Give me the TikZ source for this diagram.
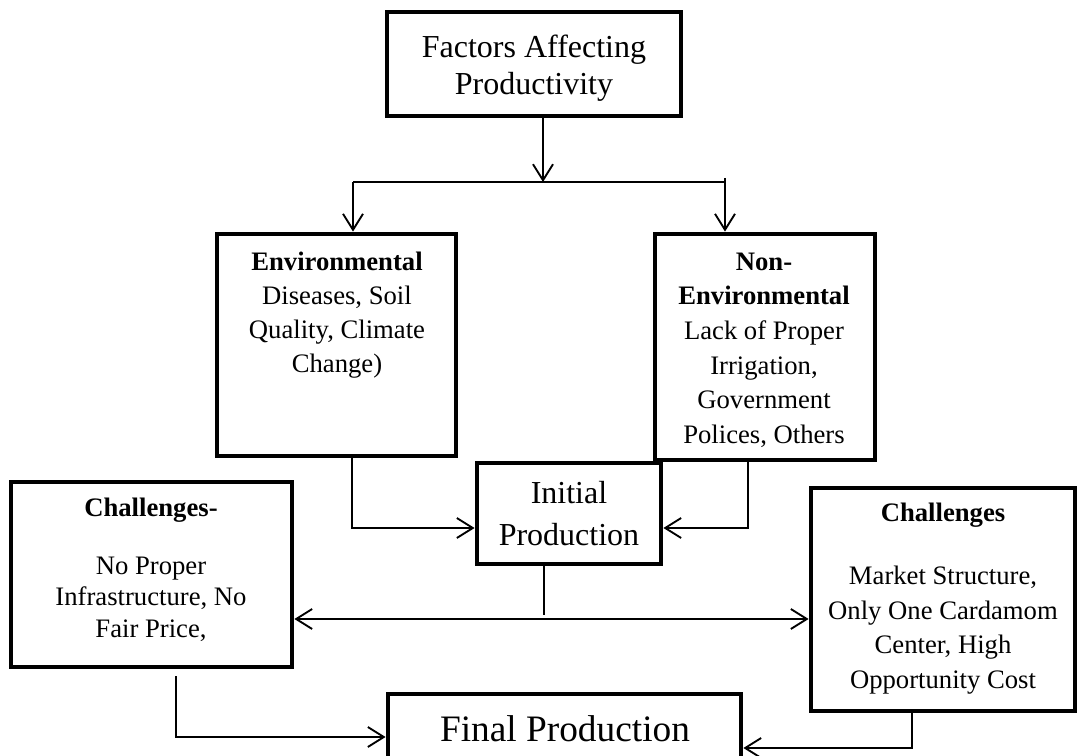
\documentclass[tikz,border=0pt]{standalone}
\usepackage{fontspec}
\setmainfont{Liberation Serif}
\usetikzlibrary{arrows.meta,fit}
\begin{document}
\begin{tikzpicture}[x=0.75pt,y=-0.75pt,
  box/.style={draw=black,line width=3.6pt,inner sep=0pt,rectangle},
  conn/.style={line width=1.4pt,draw=black},
  arr/.style={conn,-{Straight Barb[length=12pt,width=15pt]}},
  arrtwo/.style={conn,{Straight Barb[length=12pt,width=15pt]}-{Straight Barb[length=12pt,width=15pt]}},
  big/.style={font=\fontsize{24}{28}\selectfont,align=center,inner sep=0pt},
  body/.style={font=\fontsize{20}{25.5}\selectfont,align=center,inner sep=0pt},
  head/.style={font=\fontsize{20}{25.5}\selectfont\bfseries,align=center,inner sep=0pt}]
\useasboundingbox (0,0) rectangle (1081,756);
\clip (0,0) rectangle (1081,756);
% boxes
\node[box,fit={(387,12) (681,116)}] (top) {};
\node[box,fit={(217,234) (456,456)}] (env) {};
\node[box,fit={(655,234) (875,460)}] (nonenv) {};
\node[box,fit={(477,463) (661,564)}] (initial) {};
\node[box,fit={(11,482) (292,667)}] (left) {};
\node[box,fit={(811,488) (1075,711)}] (right) {};
\node[box,fit={(388,694) (741,790)}] (final) {};
% texts
\node[big] (ttop) at (534,68) {Factors Affecting\\Productivity};
\node[body] (tenv) at (337,315) {\textbf{Environmental}\\Diseases, Soil\\Quality, Climate\\Change)};
\node[body,font=\fontsize{20}{26}\selectfont] (tnonenv) at (764,350) {\textbf{Non-}\\\textbf{Environmental}\\Lack of Proper\\Irrigation,\\Government\\Polices, Others};
\node[big,font=\fontsize{24}{31.5}\selectfont] (tinit) at (569,514) {Initial\\Production};
\node[head] (hleft) at (151,510) {Challenges-};
\node[body,font=\fontsize{20}{23.5}\selectfont] (tleft) at (151,599) {No Proper\\Infrastructure, No\\Fair Price,};
\node[head] (hright) at (943,515) {Challenges};
\node[body,font=\fontsize{20}{26}\selectfont] (tright) at (943,630) {Market Structure,\\Only One Cardamom\\Center, High\\Opportunity Cost};
\node[inner sep=0pt,font=\fontsize{28}{32}\selectfont] (tfinal) at (565,729) {Final Production};
% coordinates
\coordinate (j) at (543,182);
\coordinate (jl) at (353,182);
\coordinate (jr) at (725,182);
\coordinate (jrt) at (725,178);
\coordinate (ex) at (352,0);
\coordinate (nx) at (748,0);
\coordinate (ay) at (0,528);
\coordinate (ix) at (544,615);
\coordinate (dy) at (0,619);
\coordinate (lx) at (176,676);
\coordinate (fy) at (0,737);
\coordinate (rx) at (912,0);
\coordinate (gy) at (0,748);
% connectors
\draw[arr] (top.south -| j) -- (j);
\draw[conn] (jl) -- (jr);
\draw[arr] (jl) -- (jl |- env.north);
\draw[arr] (jrt) -- (jr |- nonenv.north);
\draw[arr] (ex |- env.south) -- (ex |- ay) -- (initial.west |- ay);
\draw[arr] (nx |- nonenv.south) -- (nx |- ay) -- (initial.east |- ay);
\draw[conn] (initial.south -| ix) -- (ix);
\draw[arrtwo] (left.east |- dy) -- (right.west |- dy);
\draw[arr] (lx) -- (lx |- fy) -- (final.west |- fy);
\draw[arr] (rx |- right.south) -- (rx |- gy) -- (final.east |- gy);
\end{tikzpicture}
\end{document}
